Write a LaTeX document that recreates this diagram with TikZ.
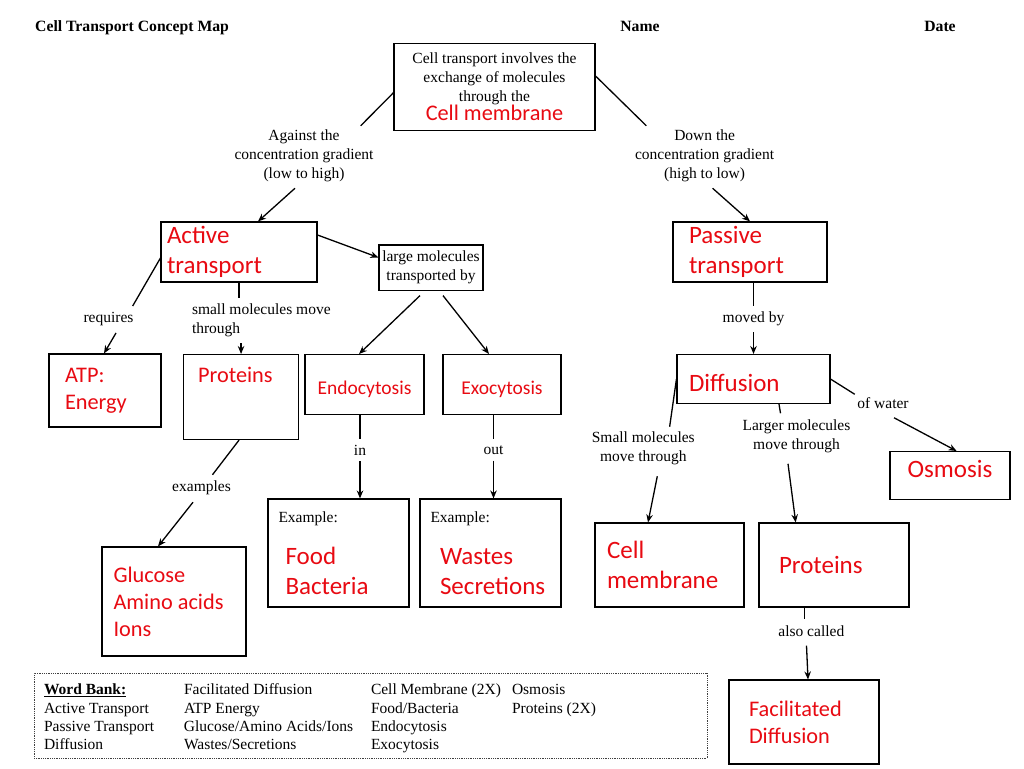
\documentclass[tikz,border=0pt]{standalone}
\usepackage{fontspec}
\setmainfont{Liberation Serif}
\newfontfamily\redfont{Carlito}
\usepackage{tikz}
\usetikzlibrary{arrows.meta}
\definecolor{mapred}{RGB}{232,10,18}
\tikzset{
BOX/.style ={draw=black,line width=1.1pt,rectangle,inner sep=0pt},
LABEL/.style ={font=\fontsize{15.5}{19}\selectfont,inner sep=6pt,align=center},
LINK/.style ={draw=black,line cap=butt,line width=1.3pt},
ARROW/.style ={LINK,-{Stealth[length=8pt,width=6.5pt]}},
REDBIG/.style={text=mapred,font=\redfont\fontsize{25}{30}\selectfont},
REDMID/.style={text=mapred,font=\redfont\fontsize{22.3}{27}\selectfont},
REDSMALL/.style={text=mapred,font=\redfont\fontsize{19.5}{24}\selectfont},
BANK/.style={draw=black!75,densely dotted,line width=0.8pt,inner xsep=10pt,inner ysep=0pt,font=\fontsize{15.5}{18.33}\selectfont},
}

\begin{document}
\begin{tikzpicture} %Cell transport concept map
[x=1pt, y=-1pt, HEAD/.style={anchor=base,inner sep=0pt,font=\bfseries\fontsize{15.7}{18}\selectfont}]
	\path[fill=white] (0,0) rectangle (1024,768);
	\useasboundingbox (0,0) rectangle (1024,768);
	% heading
	\node (title) at (35,32)[HEAD,anchor=base west] {Cell Transport Concept Map};
	\node (name) at (640,32)[HEAD] {Name};
	\node (date) at (940,32)[HEAD] {Date};
	% boxes
	\node (top) at (494.5,86.7)[BOX,LABEL,minimum width=201pt,minimum height=87pt] {Cell transport involves the\\exchange of molecules\\through the\\[0pt]{\color{mapred}\redfont\fontsize{22.3}{19}\selectfont Cell membrane}};
	\node (active) at (239,252)[BOX,REDBIG,minimum width=156pt,minimum height=60pt,text width=144pt,align=flush left] {Active\\transport};
	\node (passive) at (750,252)[BOX,REDBIG,minimum width=154pt,minimum height=60pt,text width=122pt,align=flush left] {Passive\\transport};
	\node (large) at (431,267.5)[BOX,LABEL,inner xsep=1pt,minimum width=104pt,minimum height=43pt] {large molecules\\transported by};
	\node (atp) at (105,390.5)[BOX,REDMID,minimum width=112pt,minimum height=73pt,text width=80pt,align=flush left] {ATP:\\Energy};
	\node (protL) at (183,354)[BOX,REDMID,anchor=north west,text width=86pt,align=flush left,inner xsep=14.5pt,inner ysep=0pt,text height=28pt,text depth=57pt] {Proteins};
	\node (endo) at (364.5,354)[BOX,REDSMALL,anchor=north,minimum width=119pt,inner ysep=0pt,text height=39.5pt,text depth=20.5pt] {Endocytosis};
	\node (exo) at (502,354)[BOX,REDSMALL,anchor=north,minimum width=118pt,inner ysep=0pt,text height=39.5pt,text depth=20.5pt] {Exocytosis};
	\node (food) at (338.5,553)[BOX,REDBIG,minimum width=141pt,minimum height=108pt,text width=120pt,align=flush left] {{\color{black}\rmfamily\fontsize{15.5}{19}\selectfont Example:}\\[12pt]\hspace*{7pt}Food\\\hspace*{7pt}Bacteria};
	\node (wastes) at (490.5,553)[BOX,REDBIG,minimum width=141pt,minimum height=108pt,text width=120pt,align=flush left] {{\color{black}\rmfamily\fontsize{15.5}{19}\selectfont Example:}\\[12pt]\hspace*{9.5pt}Wastes\\\hspace*{9.5pt}Secretions};
	\node (gluc) at (174,601.5)[BOX,REDMID,minimum width=144pt,minimum height=109pt,text width=121pt,align=flush left] {Glucose\\Amino acids\\Ions};
	\node (diff) at (753.5,354)[BOX,REDBIG,anchor=north,text width=129pt,align=flush left,inner xsep=12pt,inner ysep=0pt,text height=37pt,text depth=12pt] {Diffusion};
	\node (osm) at (950,451)[BOX,REDBIG,anchor=north,minimum width=120pt,inner ysep=0pt,text height=26pt,text depth=22pt] {Osmosis};
	\node (cellm) at (669.5,565)[BOX,REDBIG,minimum width=149pt,minimum height=84pt,text width=125pt,align=flush left] {Cell\\membrane};
	\node (protR) at (834,565)[BOX,REDBIG,minimum width=150pt,minimum height=84pt,text width=110pt,align=flush left] {Proteins};
	\node (facil) at (804,722)[BOX,REDMID,minimum width=150pt,minimum height=84pt,text width=110pt,align=flush left] {Facilitated\\Diffusion};
	% linking words
	\node (against) at (304,156)[LABEL] {Against the\\concentration gradient\\(low to high)};
	\node (down) at (704.6,156)[LABEL] {Down the\\concentration gradient\\(high to low)};
	\node (requires) at (108.5,319)[LABEL] {requires};
	\node (small) at (185.8,320.5)[LABEL,anchor=west,align=left] {small molecules move\\through};
	\node (in) at (360,450)[LABEL] {in};
	\node (out) at (493.5,450)[LABEL] {out};
	\node (examples) at (201.5,488)[LABEL] {examples};
	\node (moved) at (753.5,319)[LABEL] {moved by};
	\node (water) at (883,403)[LABEL] {of water};
	\node (smallmv) at (643.3,448.5)[LABEL] {Small molecules\\move through};
	\node (larger) at (796.5,436)[LABEL] {Larger molecules\\move through};
	\node (also) at (811.3,631)[LABEL] {also called};
	% connectors
	\path[LINK] ([shift={(0,6)}]top.west) -- ([shift={(-19,2)}]against.north east);
	\path[ARROW] ([shift={(-9,0)}]against.south) -- ([shift={(19,0)}]active.north);
	\path[LINK] ([shift={(0,-10.7)}]top.east) -- ([shift={(17.4,2)}]down.north west);
	\path[ARROW] ([shift={(8,0)}]down.south) -- (passive.north);
	\path[ARROW] ([shift={(0,-17)}]active.east) -- ([shift={(0,-10)}]large.west);
	\path[LINK] ([shift={(0,6)}]active.west) -- ([shift={(-7,0)}]requires.north east);
	\path[ARROW] ([shift={(7.5,1)}]requires.south) -- ([shift={(-1,0)}]atp.north);
	\path[LINK] (active.south) -- (active.south |- small.north);
	\path[ARROW] (protL.north |- small.south) -- (protL.north);
	\path[ARROW] ([shift={(-11,5)}]large.south) -- ([shift={(-5.5,0)}]endo.north);
	\path[ARROW] ([shift={(12,5)}]large.south) -- ([shift={(-13,0)}]exo.north);
	\path[LINK] (in.north |- endo.south) -- (in.north);
	\path[ARROW] (in.south) -- (in.south |- food.north);
	\path[LINK] (out.north |- exo.south) -- (out.north);
	\path[ARROW] (out.south) -- (out.south |- wastes.north);
	\path[LINK] ([shift={(-2,0)}]protL.south) -- ([shift={(-24.5,0)}]examples.north east);
	\path[ARROW] ([shift={(-8.5,1)}]examples.south) -- ([shift={(-16,0)}]gluc.north);
	\path[LINK] (moved.north |- passive.south) -- (moved.north);
	\path[ARROW] (moved.south) -- (moved.south |- diff.north);
	\path[LINK] (diff.east) -- ([shift={(3.5,3)}]water.north west);
	\path[ARROW] ([shift={(11,3)}]water.south) -- ([shift={(6.6,0)}]osm.north);
	\path[LINK] (diff.west) -- ([shift={(-31.3,1)}]smallmv.north east);
	\path[ARROW] ([shift={(14,5)}]smallmv.south) -- ([shift={(-21.5,0)}]cellm.north);
	\path[LINK] ([shift={(25.5,0)}]diff.south) -- ([shift={(-16,0)}]larger.north);
	\path[ARROW] ([shift={(-8.5,5)}]larger.south) -- ([shift={(-38.3,0)}]protR.north);
	\path[LINK] ([shift={(-29.2,0)}]protR.south) -- ([shift={(-6.5,0)}]also.north);
	\path[ARROW] ([shift={(-4.8,3)}]also.south) -- ([shift={(4,0)}]facil.north);
	% word bank
	\node (bank) at (370.5,715.8)[BANK,minimum width=673pt,minimum height=85pt] {%
	\raisebox{-3pt}[\dimexpr\height+3pt\relax]{%
	\begin{tabular}{@{}p{140pt}@{}p{187pt}@{}p{141pt}@{}p{185pt}@{}}
	\textbf{\underline{Word Bank:}} & Facilitated Diffusion & Cell Membrane (2X) & Osmosis\\
	Active Transport & ATP Energy & Food/Bacteria & Proteins (2X)\\
	Passive Transport & Glucose/Amino Acids/Ions & Endocytosis & \\
	Diffusion & Wastes/Secretions & Exocytosis &
	\end{tabular}}};
\end{tikzpicture}
\end{document}
